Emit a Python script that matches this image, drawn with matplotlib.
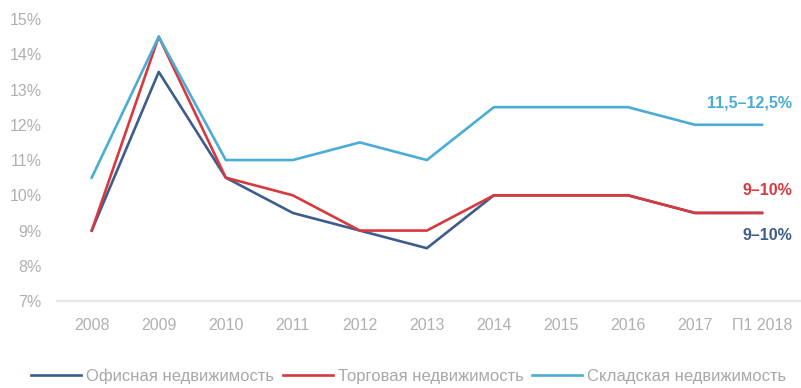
#!/usr/bin/env python3
"""Cap rates by commercial real estate segment, 2008 - H1 2018."""

import matplotlib

matplotlib.use("Agg")
import matplotlib.pyplot as plt
from matplotlib.ticker import FuncFormatter

years = ["2008", "2009", "2010", "2011", "2012", "2013", "2014", "2015", "2016", "2017", "П1 2018"]
office = [9.0, 13.5, 10.5, 9.5, 9.0, 8.5, 10.0, 10.0, 10.0, 9.5, 9.5]
retail = [9.0, 14.5, 10.5, 10.0, 9.0, 9.0, 10.0, 10.0, 10.0, 9.5, 9.5]
warehouse = [10.5, 14.5, 11.0, 11.0, 11.5, 11.0, 12.5, 12.5, 12.5, 12.0, 12.0]

series_names = ["Офисная недвижимость", "Торговая недвижимость", "Складская недвижимость"]
range_labels = ["9–10%", "9–10%", "11,5–12,5%"]
label_y = [8.87, 10.15, 12.62]

colors = ["#3d5d8c", "#d8393f", "#4badd5"]

plt.rcParams["font.family"] = ["Liberation Sans", "DejaVu Sans"]

fig = plt.figure(figsize=(8.01, 3.88), dpi=100)
ax = fig.add_axes([0.071, 0.224, 0.928, 0.727])

x = range(len(years))
for vals, name, c in zip([office, retail, warehouse], series_names, colors):
    ax.plot(x, vals, color=c, lw=1.9, label=name, solid_joinstyle="round")

for text, y, c in zip(range_labels, label_y, colors):
    ax.text(10.45, y, text, color=c, fontsize=11.5, fontweight="bold",
            ha="right", va="center")

ax.set_xlim(-0.52, 10.57)
ax.set_ylim(7, 15)
ax.set_yticks(range(7, 16))
ax.yaxis.set_major_formatter(FuncFormatter(lambda v, _: f"{v:.0f}%"))
ax.set_xticks(list(x))
ax.set_xticklabels(years)

for side in ["top", "right", "left"]:
    ax.spines[side].set_visible(False)
ax.spines["bottom"].set_color("#e6e6e6")
ax.spines["bottom"].set_linewidth(1.6)
ax.tick_params(length=0, labelcolor="#b0b0b0", labelsize=11.5)
ax.tick_params(axis="x", pad=12)
ax.tick_params(axis="y", pad=11)

fig.legend(loc="lower center", bbox_to_anchor=(0.51, -0.028), ncol=3, frameon=False,
           fontsize=12, labelcolor="#a8a8a8", handlelength=3.0,
           handletextpad=0.3, columnspacing=0.5)

fig.savefig("out.png", dpi=100)
